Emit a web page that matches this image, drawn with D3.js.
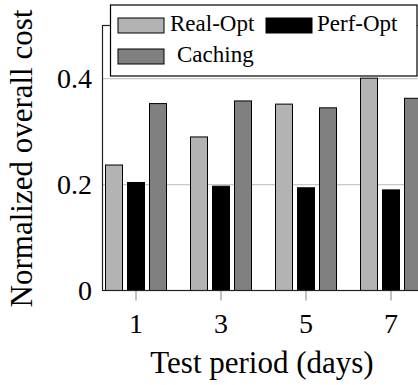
<!DOCTYPE html>
<html>
<head>
<meta charset="utf-8">
<script src="https://cdn.jsdelivr.net/npm/d3@7/dist/d3.min.js"></script>
<style>
  html, body { margin: 0; padding: 0; background: #fff; overflow: hidden; }
  svg { display: block; }
</style>
</head>
<body>
<svg id="chart" width="418" height="385"></svg>
<script>
// Test periods (days) and normalized overall cost per method
const days = [1, 3, 5, 7];
const seriesNames = ["Real-Opt", "Perf-Opt", "Caching"];
const realOpt = [0.237, 0.290, 0.352, 0.401];
const perfOpt = [0.204, 0.197, 0.194, 0.190];
const caching = [0.353, 0.358, 0.345, 0.363];
const yTicks = [0, 0.2, 0.4];
const yTickLabels = ["0", "0.2", "0.4"];
const xTickLabels = ["1", "3", "5", "7"];
const colors = { "Real-Opt": "#b3b3b3", "Perf-Opt": "#000000", "Caching": "#808080" };
const FONT = "Liberation Serif";

const seriesValues = { "Real-Opt": realOpt, "Perf-Opt": perfOpt, "Caching": caching };

const svg = d3.select("#chart");

// Plot frame
const plotLeft = 102.5, plotTop = 25.5, plotBottom = 290.5;
const x = d3.scaleLinear().domain([1, 7]).range([136, 391]);
const plotRight = x(7) + (x(1) - plotLeft);
const y = d3.scaleLinear().domain([0, 0.5]).range([plotBottom, plotTop + 0.25]);
const inner = d3.scaleBand().domain(seriesNames).range([-30.5, 30.5]).paddingInner(5 / 22);

// Horizontal grid lines
svg.append("g").selectAll("line")
  .data(yTicks.filter(d => d > 0))
  .join("line")
  .attr("x1", plotLeft).attr("x2", plotRight)
  .attr("y1", d => y(d)).attr("y2", d => y(d))
  .attr("stroke", "#c8c8c8").attr("stroke-width", 1.2);

// Bars
const rows = [];
days.forEach((d, i) => seriesNames.forEach(s => rows.push({ day: d, series: s, value: seriesValues[s][i] })));
svg.append("g").selectAll("rect")
  .data(rows)
  .join("rect")
  .attr("x", d => x(d.day) + inner(d.series))
  .attr("width", inner.bandwidth())
  .attr("y", d => y(d.value))
  .attr("height", d => y(0) - y(d.value))
  .attr("fill", d => colors[d.series])
  .attr("stroke", "#000").attr("stroke-width", 1);

// Bottom tick marks (outside only)
svg.append("g").selectAll("line")
  .data(days)
  .join("line")
  .attr("x1", d => x(d)).attr("x2", d => x(d))
  .attr("y1", plotBottom).attr("y2", plotBottom + 10)
  .attr("stroke", "#999").attr("stroke-width", 1.2);

// Axis box
svg.append("rect")
  .attr("x", plotLeft).attr("y", plotTop)
  .attr("width", plotRight - plotLeft).attr("height", plotBottom - plotTop)
  .attr("fill", "none").attr("stroke", "#222").attr("stroke-width", 1.2);

// Y tick labels
svg.append("g").selectAll("text")
  .data(yTicks)
  .join("text")
  .attr("x", 92).attr("y", d => y(d) + 9)
  .attr("text-anchor", "end")
  .style("font-family", FONT)
  .attr("font-size", 28)
  .text((d, i) => yTickLabels[i]);

// X tick labels
svg.append("g").selectAll("text")
  .data(days)
  .join("text")
  .attr("x", d => x(d)).attr("y", 333)
  .attr("text-anchor", "middle")
  .style("font-family", FONT)
  .attr("font-size", 28)
  .text((d, i) => xTickLabels[i]);

// Axis titles
svg.append("text")
  .attr("x", 262).attr("y", 373)
  .attr("text-anchor", "middle")
  .style("font-family", FONT)
  .attr("font-size", 31)
  .text("Test period (days)");

svg.append("text")
  .attr("transform", "translate(32,158.5) rotate(-90)")
  .attr("text-anchor", "middle")
  .style("font-family", FONT)
  .attr("font-size", 31)
  .text("Normalized overall cost");

// Legend
const legend = svg.append("g");
legend.append("rect")
  .attr("x", 110.5).attr("y", 5).attr("width", 306.5).attr("height", 71)
  .attr("fill", "#fff").attr("stroke", "#000").attr("stroke-width", 1.2);

const legendItems = [
  { name: "Real-Opt", sx: 118, sy: 18, tx: 170, ty: 31 },
  { name: "Perf-Opt", sx: 266, sy: 18, tx: 317, ty: 31 },
  { name: "Caching", sx: 118, sy: 49, tx: 177, ty: 62 }
];
legend.selectAll("rect.sw")
  .data(legendItems)
  .join("rect")
  .attr("class", "sw")
  .attr("x", d => d.sx).attr("y", d => d.sy)
  .attr("width", 46).attr("height", 15)
  .attr("fill", d => colors[d.name])
  .attr("stroke", "#000").attr("stroke-width", 1);
legend.selectAll("text.lbl")
  .data(legendItems)
  .join("text")
  .attr("class", "lbl")
  .attr("x", d => d.tx).attr("y", d => d.ty)
  .style("font-family", FONT)
  .attr("font-size", 23)
  .text(d => d.name);
</script>
</body>
</html>
